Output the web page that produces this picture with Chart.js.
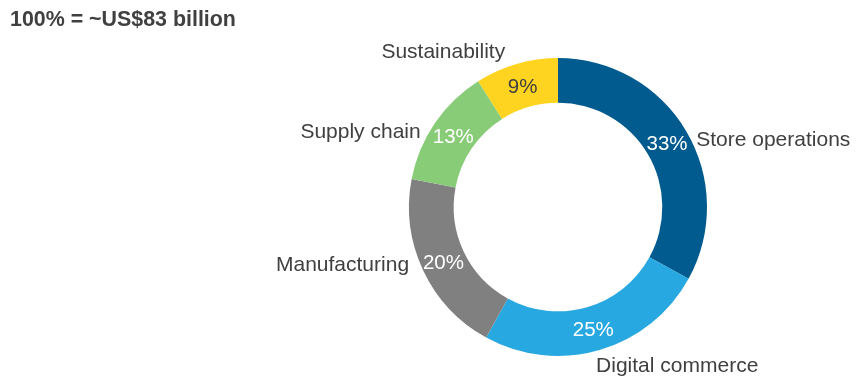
<!DOCTYPE html>
<html>
<head>
<meta charset="utf-8">
<script src="https://cdn.jsdelivr.net/npm/chart.js@4"></script>
<style>
  html, body { margin: 0; padding: 0; background: #fff; }
  #wrap { position: relative; width: 858px; height: 378px; }
  #titulo { position: absolute; left: 10px; top: 7px; font: bold 21.4px "Liberation Sans", Arial, sans-serif; color: #404040; }
</style>
</head>
<body>
<div id="wrap">
  <div id="titulo">100% = ~US$83 billion</div>
  <canvas id="grafico" width="858" height="378"></canvas>
</div>
<script>
// dados do grafico
const categorias = ["Store operations", "Digital commerce", "Manufacturing", "Supply chain", "Sustainability"];
const valores = [33, 25, 20, 13, 9];
const cores = ["#025B8E", "#28A8E0", "#808080", "#88CC78", "#FED420"];
const corTextoValor = ["#fff", "#fff", "#fff", "#fff", "#404040"];

// plugin pra escrever os rotulos (percentual dentro e nome fora)
const rotulos = {
    id: "rotulos",
    afterDatasetsDraw(chart) {
        const ctx = chart.ctx;
        const meta = chart.getDatasetMeta(0);
        ctx.save();
        meta.data.forEach((arc, i) => {
            const p = arc.getProps(["x", "y", "startAngle", "endAngle", "innerRadius", "outerRadius"], true);
            const meio = (p.startAngle + p.endAngle) / 2;
            const cos = Math.cos(meio), sin = Math.sin(meio);
            const rMeio = (p.innerRadius + p.outerRadius) / 2;

            // percentual
            ctx.font = "20.5px 'Liberation Sans', Arial, sans-serif";
            ctx.fillStyle = corTextoValor[i];
            ctx.textAlign = "center";
            ctx.textBaseline = "middle";
            ctx.fillText(valores[i] + "%", p.x + cos * rMeio, p.y + sin * rMeio + 2);

            // nome da categoria
            ctx.font = "21px 'Liberation Sans', Arial, sans-serif";
            const up = -sin; // componente vertical (pra cima)
            const dx = cos * (p.outerRadius + 14) - 8 * up * up;
            const dy = sin * (p.outerRadius * 0.83 + 43 * up * up) + 2;
            ctx.fillStyle = "#404040";
            ctx.textAlign = cos >= 0 ? "left" : "right";
            ctx.fillText(categorias[i], p.x + dx, p.y + dy);
        });
        ctx.restore();
    }
};

new Chart(document.getElementById("grafico"), {
    type: "doughnut",
    data: {
        labels: categorias,
        datasets: [{
            data: valores,
            backgroundColor: cores,
            borderWidth: 0
        }]
    },
    options: {
        responsive: false,
        animation: false,
        cutout: "70%",
        layout: { padding: { top: 58, bottom: 22, left: 409, right: 151 } },
        plugins: { legend: { display: false }, tooltip: { enabled: false } }
    },
    plugins: [rotulos]
});
</script>
</body>
</html>
